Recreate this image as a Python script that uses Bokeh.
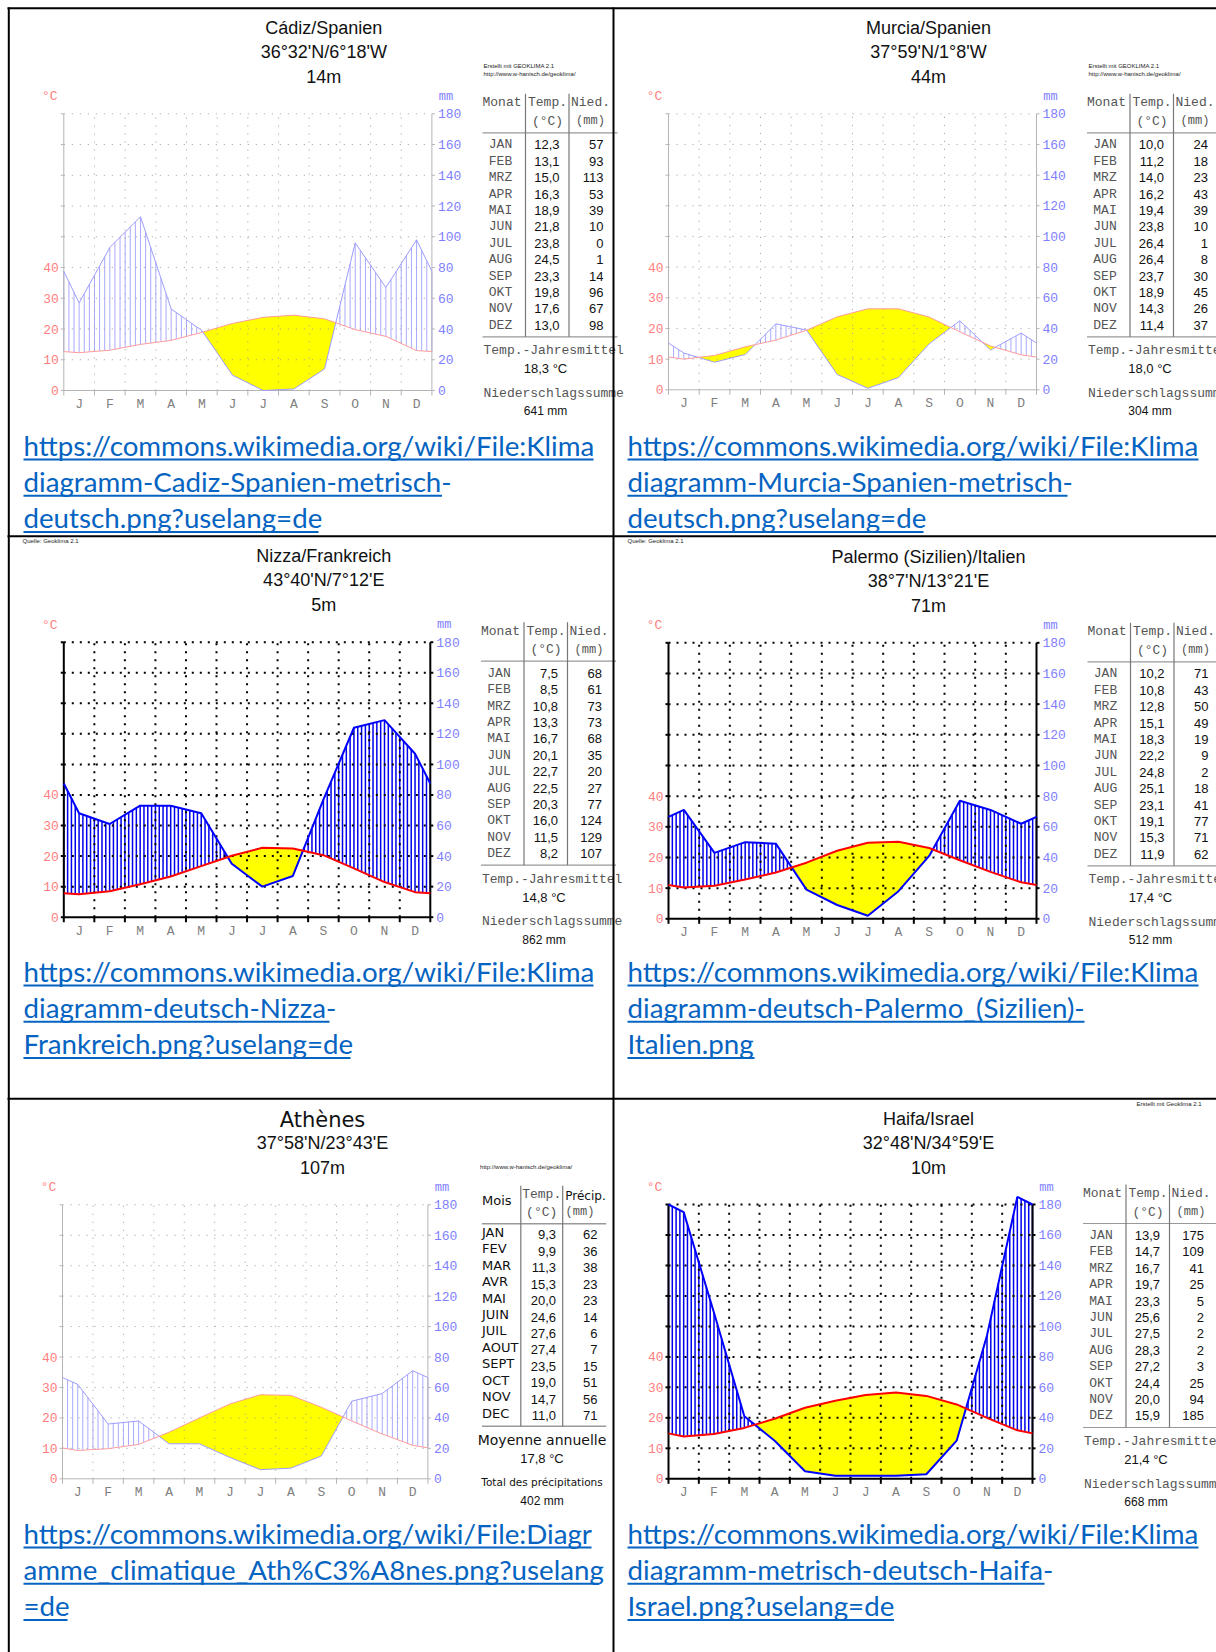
import numpy as np
from bokeh.plotting import figure
from bokeh.models import Range1d
from bokeh.embed import file_html
from bokeh.resources import INLINE
from bokeh.core.properties import value

# ------------------------------------------------------------------ data
month_letters = ["J", "F", "M", "A", "M", "J", "J", "A", "S", "O", "N", "D"]
months_de = ["JAN", "FEB", "MRZ", "APR", "MAI", "JUN", "JUL", "AUG", "SEP", "OKT", "NOV", "DEZ"]
months_fr = ["JAN", "FEV", "MAR", "AVR", "MAI", "JUIN", "JUIL", "AOUT", "SEPT", "OCT", "NOV", "DEC"]
temp_ticks = [0, 10, 20, 30, 40]
prec_ticks = [0, 20, 40, 60, 80, 100, 120, 140, 160, 180]

cadiz_temp = [12.3, 13.1, 15.0, 16.3, 18.9, 21.8, 23.8, 24.5, 23.3, 19.8, 17.6, 13.0]
cadiz_prec = [57, 93, 113, 53, 39, 10, 0, 1, 14, 96, 67, 98]
murcia_temp = [10.0, 11.2, 14.0, 16.2, 19.4, 23.8, 26.4, 26.4, 23.7, 18.9, 14.3, 11.4]
murcia_prec = [24, 18, 23, 43, 39, 10, 1, 8, 30, 45, 26, 37]
nizza_temp = [7.5, 8.5, 10.8, 13.3, 16.7, 20.1, 22.7, 22.5, 20.3, 16.0, 11.5, 8.2]
nizza_prec = [68, 61, 73, 73, 68, 35, 20, 27, 77, 124, 129, 107]
palermo_temp = [10.2, 10.8, 12.8, 15.1, 18.3, 22.2, 24.8, 25.1, 23.1, 19.1, 15.3, 11.9]
palermo_prec = [71, 43, 50, 49, 19, 9, 2, 18, 41, 77, 71, 62]
athen_temp = [9.3, 9.9, 11.3, 15.3, 20.0, 24.6, 27.6, 27.4, 23.5, 19.0, 14.7, 11.0]
athen_prec = [62, 36, 38, 23, 23, 14, 6, 7, 15, 51, 56, 71]
haifa_temp = [13.9, 14.7, 16.7, 19.7, 23.3, 25.6, 27.5, 28.3, 27.2, 24.4, 20.0, 15.9]
haifa_prec = [175, 109, 41, 25, 5, 2, 2, 2, 3, 25, 94, 185]

station_names = ["Cádiz/Spanien", "Murcia/Spanien", "Nizza/Frankreich",
                 "Palermo (Sizilien)/Italien", "Athènes", "Haifa/Israel"]
station_coords = ["36°32'N/6°18'W", "37°59'N/1°8'W", "43°40'N/7°12'E",
                  "38°7'N/13°21'E", "37°58'N/23°43'E", "32°48'N/34°59'E"]
station_heights = ["14m", "44m", "5m", "71m", "107m", "10m"]
annual_means = [18.3, 18.0, 14.8, 17.4, 17.8, 21.4]
annual_sums = [641, 304, 862, 512, 402, 668]

url_lines = [
    ["https://commons.wikimedia.org/wiki/File:Klima", "diagramm-Cadiz-Spanien-metrisch-", "deutsch.png?uselang=de"],
    ["https://commons.wikimedia.org/wiki/File:Klima", "diagramm-Murcia-Spanien-metrisch-", "deutsch.png?uselang=de"],
    ["https://commons.wikimedia.org/wiki/File:Klima", "diagramm-deutsch-Nizza-", "Frankreich.png?uselang=de"],
    ["https://commons.wikimedia.org/wiki/File:Klima", "diagramm-deutsch-Palermo_(Sizilien)-", "Italien.png"],
    ["https://commons.wikimedia.org/wiki/File:Diagr", "amme_climatique_Ath%C3%A8nes.png?uselang", "=de"],
    ["https://commons.wikimedia.org/wiki/File:Klima", "diagramm-metrisch-deutsch-Haifa-", "Israel.png?uselang=de"],
]

temps = [cadiz_temp, murcia_temp, nizza_temp, palermo_temp, athen_temp, haifa_temp]
precs = [cadiz_prec, murcia_prec, nizza_prec, palermo_prec, athen_prec, haifa_prec]

# ------------------------------------------------------------------ layout (page pixels)
W, H = 1216, 1652
boxes = [(63.3, 431.4, 113.3, 390.0), (668.0, 1036.0, 113.3, 389.3),
         (63.3, 429.8, 641.7, 916.7), (668.0, 1036.0, 642.3, 918.3),
         (62.0, 427.4, 1204.3, 1478.3), (668.0, 1032.0, 1204.0, 1478.3)]
table_left = [482.0, 1086.5, 480.5, 1087.0, 481.5, 1082.5]
dark_style = [False, False, True, True, False, True]
url_x = [23, 627, 23, 627, 23, 627]
url_base = [454, 454, 980, 980, 1542, 1542]
url_ends = [[593, 441.5, 318], [1198, 1067, 923], [593, 329, 350],
            [1198, 1084, 754], [591, 598.5, 67], [1198, 1044, 893.5]]

LIGHT = dict(prec="#9c9cff", prec_w=1, temp="#ff9c9c", temp_w=1, hatch="#a9a9ff", hatch_w=1,
             per_month=6, grid="#9a9a9a", grid_w=1, dash="1 7", axis="#b4b4b4", axis_w=1)
DARK = dict(prec="#0000ff", prec_w=2, temp="#ff0000", temp_w=2, hatch="#0000ee", hatch_w=1.5,
            per_month=8, grid="#000000", grid_w=2, dash="2 6", axis="#000000", axis_w=2)

MONO = "Liberation Mono"
SANS = "Liberation Sans"
GREY_TXT = "#555555"
PINK = "#ff8080"
BLUE = "#8080ff"

p = figure(width=W, height=H, x_range=Range1d(0, W), y_range=Range1d(H, 0),
           output_backend="svg", toolbar_location=None, min_border=0,
           x_axis_location=None, y_axis_location=None, title=None)
p.outline_line_color = None
p.background_fill_color = "white"
p.border_fill_color = "white"
p.xgrid.grid_line_color = None
p.ygrid.grid_line_color = None


def as_list(v, n):
    if isinstance(v, (list, tuple, np.ndarray)):
        return list(v)
    return [v] * n


def txt(x, y, text, font=SANS, size=12, color="#111111", align="left", baseline="middle",
        xr="default", yr="default"):
    text = as_list(text, 1)
    n = len(text)
    p.text(x=as_list(x, n), y=as_list(y, n), text=text, text_font=value(font),
           text_font_size=f"{size}px", text_color=color, text_align=align,
           text_baseline=baseline, x_range_name=xr, y_range_name=yr)


def seg(x0, y0, x1, y1, color, width=1, dash="solid", xr="default", yr="default"):
    arrs = [v for v in (x0, y0, x1, y1) if isinstance(v, (list, tuple, np.ndarray))]
    n = max(len(v) for v in arrs) if arrs else 1
    p.segment(x0=as_list(x0, n), y0=as_list(y0, n), x1=as_list(x1, n), y1=as_list(y1, n),
              line_color=color, line_width=width, line_dash=dash,
              x_range_name=xr, y_range_name=yr)


def fmt(v):
    return f"{v:.1f}".replace(".", ",")


for k in range(6):
    L, R, T, B = boxes[k]
    st = DARK if dark_style[k] else LIGHT
    tl = table_left[k]
    xr, yr, tr = f"m{k}", f"v{k}", f"t{k}"

    # scales mapping months / mm / °C onto the chart box
    mspan = 12 * W / (R - L)
    ms = -L / W * mspan
    p.extra_x_ranges[xr] = Range1d(ms, ms + mspan)
    vspan = 180 * H / (B - T)
    vend = 180 + T / H * vspan
    p.extra_y_ranges[yr] = Range1d(vend - vspan, vend)
    p.extra_y_ranges[tr] = Range1d((vend - vspan) / 2, vend / 2)

    tv = np.array(temps[k], dtype=float)
    pv = np.array(precs[k], dtype=float)
    edge_t = (tv[0] + tv[-1]) / 2
    edge_p = (pv[0] + pv[-1]) / 2
    xn = np.concatenate([[0.0], np.arange(12) + 0.5, [12.0]])
    tn = np.concatenate([[edge_t], tv, [edge_t]])
    pn = np.concatenate([[edge_p], pv, [edge_p]])
    bn = 2 * tn  # temperature on precipitation scale

    # insert crossings
    xa, pa, ba = [xn[0]], [pn[0]], [bn[0]]
    for i in range(len(xn) - 1):
        d0, d1 = pn[i] - bn[i], pn[i + 1] - bn[i + 1]
        if d0 * d1 < 0:
            f = d0 / (d0 - d1)
            xc = xn[i] + f * (xn[i + 1] - xn[i])
            yc = pn[i] + f * (pn[i + 1] - pn[i])
            xa.append(xc); pa.append(yc); ba.append(yc)
        xa.append(xn[i + 1]); pa.append(pn[i + 1]); ba.append(bn[i + 1])
    xa, pa, ba = np.array(xa), np.array(pa), np.array(ba)

    # arid period (yellow)
    p.varea(x=xa, y1=pa, y2=np.maximum(pa, ba), fill_color="#ffff00", fill_alpha=1,
            x_range_name=xr, y_range_name=yr)

    # humid period (vertical hatching)
    xh = np.arange(0, 12 + 1e-9, 1.0 / st["per_month"])
    ph = np.interp(xh, xn, pn)
    bh = np.interp(xh, xn, bn)
    msk = ph > bh + 0.5
    if msk.any():
        seg(xh[msk], bh[msk], xh[msk], ph[msk], st["hatch"], st["hatch_w"], xr=xr, yr=yr)

    # dotted grid
    hg = prec_ticks[1:]
    seg([0] * len(hg), hg, [12] * len(hg), hg, st["grid"], st["grid_w"], st["dash"], xr=xr, yr=yr)
    vg = list(range(1, 12))
    seg(vg, [0] * len(vg), vg, [180] * len(vg), st["grid"], st["grid_w"], st["dash"], xr=xr, yr=yr)

    # axes
    seg([0, 12, 0], [0, 0, 0], [0, 12, 12], [180, 180, 0], st["axis"], st["axis_w"], xr=xr, yr=yr)
    p.ray(x=[0] * len(prec_ticks), y=prec_ticks, length=3, angle=np.pi, length_units="screen",
          line_color=st["axis"], line_width=st["axis_w"], x_range_name=xr, y_range_name=yr)
    p.ray(x=[12] * len(prec_ticks), y=prec_ticks, length=3, angle=0, length_units="screen",
          line_color=st["axis"], line_width=st["axis_w"], x_range_name=xr, y_range_name=yr)
    p.ray(x=list(range(13)), y=[0] * 13, length=5, angle=-np.pi / 2, length_units="screen",
          line_color=st["axis"], line_width=st["axis_w"], x_range_name=xr, y_range_name=yr)

    # curves
    p.line(xn, pn, line_color=st["prec"], line_width=st["prec_w"], x_range_name=xr, y_range_name=yr)
    p.line(xn, tn, line_color=st["temp"], line_width=st["temp_w"], x_range_name=xr, y_range_name=tr)

    # tick labels
    txt(L - 5, temp_ticks, [str(t) for t in temp_ticks], MONO, 13, PINK, "right", yr=tr)
    txt(R + 6, prec_ticks, [str(v) for v in prec_ticks], MONO, 13, BLUE, "left", yr=yr)
    txt(list(np.arange(12) + 0.5), B + 14, month_letters, MONO, 13, "#808080", "center", xr=xr)
    txt(L - 14, T - 17, "°C", MONO, 13, PINK, "center")
    txt(R + 14, T - 17, "mm", MONO, 12, BLUE, "center")

    # title
    cx = L + 260
    if k == 4:
        txt(cx, T - 85, station_names[k], "DejaVu Sans", 21, "#111111", "center")
    else:
        txt(cx, T - 86, station_names[k], SANS, 18, "#111111", "center")
    txt(cx, T - 62, station_coords[k], SANS, 18, "#111111", "center")
    txt(cx, T - 37, station_heights[k], SANS, 18, "#111111", "center")

    # table
    if k != 4:
        ry = [T + 31 + 16.4 * i for i in range(12)]
        txt(tl, T - 11, "Monat", MONO, 13, GREY_TXT, "left")
        txt(tl + 65, T - 11, "Temp.", MONO, 13, GREY_TXT, "center")
        txt(tl + 108, T - 11, "Nied.", MONO, 13, GREY_TXT, "center")
        txt(tl + 65, T + 7.5, "(°C)", MONO, 13, GREY_TXT, "center")
        txt(tl + 108, T + 7.5, "(mm)", MONO, 12, GREY_TXT, "center")
        txt(tl + 18, ry, months_de, MONO, 13, GREY_TXT, "center")
        txt(tl + 77, ry, [fmt(v) for v in tv], SANS, 13, "#111111", "right")
        txt(tl + 121, ry, [str(int(v)) for v in pv], SANS, 13, "#111111", "right")
        seg([tl, tl], [T + 19, T + 223], [tl + 135, tl + 135], [T + 19, T + 223], "#999999", 1.2)
        seg([tl + 43, tl + 86.5], [T - 20, T - 20], [tl + 43, tl + 86.5], [T + 223, T + 223],
            "#777777", 1.2)
        txt(tl + 1, T + 237, "Temp.-Jahresmittel", MONO, 13, GREY_TXT, "left")
        txt(tl + 63, T + 255, fmt(annual_means[k]) + " °C", SANS, 13, "#111111", "center")
        txt(tl + 1, T + 279.5, "Niederschlagssumme", MONO, 13, GREY_TXT, "left")
        txt(tl + 63, T + 297.5, f"{annual_sums[k]} mm", SANS, 12, "#111111", "center")
    else:
        ry = [T + 27.4 + 16.45 * i for i in range(12)]
        rn = [T + 30 + 16.45 * i for i in range(12)]
        txt(tl, T - 4, "Mois", "DejaVu Sans", 13, "#111111", "left")
        txt(tl + 59.7, T - 10, "Temp.", MONO, 13, GREY_TXT, "center")
        txt(tl + 103.5, T - 9, "Précip.", "DejaVu Sans", 12, "#111111", "center")
        txt(tl + 59.7, T + 7.4, "(°C)", MONO, 13, GREY_TXT, "center")
        txt(tl + 98, T + 7.4, "(mm)", MONO, 12, GREY_TXT, "center")
        txt(tl, ry, months_fr, "DejaVu Sans", 13, "#111111", "left")
        txt(tl + 74, rn, [fmt(v) for v in tv], SANS, 13, "#111111", "right")
        txt(tl + 115.4, rn, [str(int(v)) for v in pv], SANS, 13, "#111111", "right")
        seg([tl, tl], [T + 19, T + 221.4], [tl + 124.3, tl + 124.3], [T + 19, T + 221.4], "#999999", 1.5)
        seg([tl + 38.8, tl + 80.7], [T - 19, T - 19], [tl + 38.8, tl + 80.7], [T + 221.4, T + 221.4],
            "#777777", 1.2)
        txt(tl + 60, T + 235, "Moyenne annuelle", "DejaVu Sans", 14, "#111111", "center")
        txt(tl + 60, T + 254, fmt(annual_means[k]) + " °C", SANS, 13, "#111111", "center")
        txt(tl + 60, T + 276.7, "Total des précipitations", "DejaVu Sans", 10.5, "#111111", "center")
        txt(tl + 60, T + 296.4, f"{annual_sums[k]} mm", SANS, 12, "#111111", "center")

    # link text below the diagram
    ux = url_x[k]
    for j, line in enumerate(url_lines[k]):
        by = url_base[k] + 36.2 * j
        txt(ux, by - 9, line, "Lato", 27.7, "#0563c1", "left", "middle")
        seg([ux], [by + 5], [url_ends[k][j]], [by + 5], "#0563c1", 2)

# small credit notes inside the images
for tx, ty, tt in [(483, 65, "Erstellt mit GEOKLIMA 2.1"), (483, 73.5, "http://www.w-hanisch.de/geoklima/"),
                   (1088, 65, "Erstellt mit GEOKLIMA 2.1"), (1088, 73.5, "http://www.w-hanisch.de/geoklima/"),
                   (22, 540, "Quelle: Geoklima 2.1"), (627, 540, "Quelle: Geoklima 2.1"),
                   (479.6, 1166.7, "http://www.w-hanisch.de/geoklima/"),
                   (1136, 1103, "Erstellt mit Geoklima 2.1")]:
    txt(tx, ty, tt, SANS, 6, "#222222", "left")

# table borders of the page
seg([8.3, 613], [7, 7], [8.3, 613], [H, H], "#000000", 2)
seg([7, 7, 7], [7.8, 535.7, 1098.3], [W, W, W], [7.8, 535.7, 1098.3], "#000000", 2)

open("out.html", "w").write(file_html(p, INLINE))
